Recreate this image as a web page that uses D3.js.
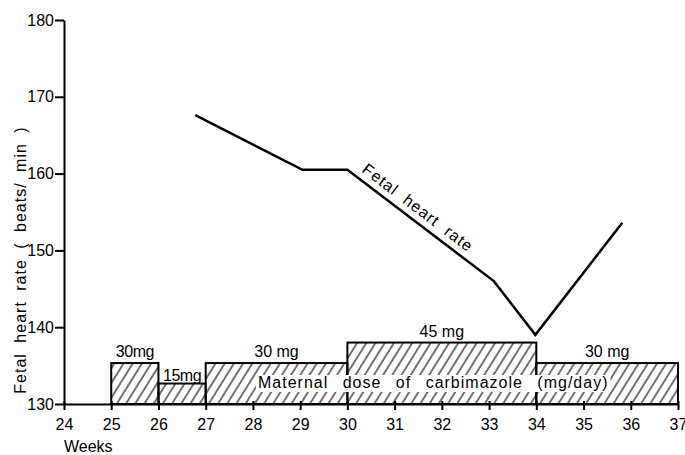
<!DOCTYPE html>
<html>
<head>
<meta charset="utf-8">
<script src="https://cdn.jsdelivr.net/npm/d3@7"></script>
<style>
  body { margin: 0; background: #fff; }
  text { font-family: "Liberation Sans", Arial, sans-serif; fill: #000; }
</style>
</head>
<body>
<svg id="chart" width="685" height="455"></svg>
<script>
    // fetal heart rate readings
    var weeks = [26.78, 29.05, 30.0, 33.1, 33.98, 35.82];
    var rate = [167.6, 160.5, 160.5, 146.0, 139.0, 153.6];

    // maternal carbimazole dose periods
    var doseStart = [25, 26, 27, 30, 34];
    var doseEnd = [26, 27, 30, 34, 37];
    var doseMg = [30, 15, 30, 45, 30];
    var doseLabels = ["30mg", "15mg", "30 mg", "45 mg", "30 mg"];

    var xTicks = d3.range(24, 38);
    var yTicks = [130, 140, 150, 160, 170, 180];

    var svg = d3.select("#chart");

    var x = d3.scaleLinear().domain([24, 37]).range([64, 678]);
    var y = d3.scaleLinear().domain([130, 180]).range([404, 20]);
    // dose drawn as bar height on the same baseline
    var yDose = d3.scaleLinear().domain([0, 45]).range([y(130), y(138)]);

    // hatch pattern
    var defs = svg.append("defs");
    var pat = defs.append("pattern")
        .attr("id", "hatch")
        .attr("patternUnits", "userSpaceOnUse")
        .attr("width", 7.8)
        .attr("height", 8)
        .attr("patternTransform", "rotate(32)");
    pat.append("line")
        .attr("x1", 1).attr("y1", 0)
        .attr("x2", 1).attr("y2", 8)
        .attr("stroke", "#000")
        .attr("stroke-width", 1.1);

    var doses = doseMg.map(function(d, i){
      return {start: doseStart[i], end: doseEnd[i], mg: d, label: doseLabels[i]};
    });

    // bars
    svg.selectAll("rect.dose")
        .data(doses)
      .enter().append("rect")
        .attr("class", "dose")
        .attr("x", function(d){ return x(d.start); })
        .attr("y", function(d){ return yDose(d.mg); })
        .attr("width", function(d){ return x(d.end) - x(d.start); })
        .attr("height", function(d){ return yDose(0) - yDose(d.mg); })
        .attr("fill", "url(#hatch)")
        .attr("stroke", "#000")
        .attr("stroke-width", 2);

    // dose labels
    svg.selectAll("text.doselabel")
        .data(doses)
      .enter().append("text")
        .attr("class", "doselabel")
        .attr("x", function(d){ return (x(d.start) + x(d.end)) / 2; })
        .attr("y", function(d){ return yDose(d.mg) - (d.mg == 15 ? 3 : 6); })
        .attr("text-anchor", "middle")
        .style("font-size", "16px")
        .style("letter-spacing", function(d){ return d.label.indexOf(" ") < 0 ? "-0.5px" : "0px"; })
        .text(function(d){ return d.label; });

    // caption inside the bars, on a white band
    var cap = svg.append("g");
    var capBg = cap.append("rect").attr("fill", "#fff");
    var capText = cap.append("text")
        .attr("x", 258)
        .attr("y", 388)
        .style("font-size", "16px")
        .style("letter-spacing", "1px")
        .style("word-spacing", "9px")
        .text("Maternal dose of carbimazole (mg/day)");
    var bb = capText.node().getBBox();
    capBg.attr("x", bb.x - 2).attr("y", bb.y + 1)
        .attr("width", bb.width + 4).attr("height", bb.height);

    // axes
    var xAxis = svg.append("g")
        .attr("transform", "translate(0," + y(130) + ")")
        .call(d3.axisBottom(x).tickValues(xTicks).tickSizeInner(6).tickSizeOuter(0).tickPadding(9)
          .tickFormat(d3.format("d")));
    xAxis.selectAll(".tick line").attr("y1", -3).attr("stroke-width", 2);
    xAxis.select(".domain").attr("stroke-width", 2);
    xAxis.selectAll("text").style("font-size", "16px").attr("font-family", null);

    var yAxis = svg.append("g")
        .attr("transform", "translate(" + x(24) + ",0)")
        .call(d3.axisLeft(y).tickValues(yTicks).tickSizeInner(9).tickSizeOuter(0).tickPadding(1));
    yAxis.selectAll(".tick line").attr("stroke-width", 2);
    yAxis.select(".domain").attr("stroke-width", 2);
    yAxis.selectAll("text").style("font-size", "16px").attr("font-family", null);

    // heart rate line
    var line = d3.line()
        .x(function(d){ return x(d[0]); })
        .y(function(d){ return y(d[1]); });

    var pts = weeks.map(function(w, i){ return [w, rate[i]]; });

    svg.append("path")
        .datum(pts)
        .attr("d", line)
        .attr("fill", "none")
        .attr("stroke", "#000")
        .attr("stroke-width", 2.5)
        .attr("stroke-linejoin", "miter");

    // label along the falling segment
    var p0 = [x(pts[2][0]), y(pts[2][1])], p1 = [x(pts[3][0]), y(pts[3][1])];
    var ang = Math.atan2(p1[1] - p0[1], p1[0] - p0[0]) * 180 / Math.PI;
    var t = 0.43;
    svg.append("text")
        .attr("transform", "translate(" + (p0[0] + (p1[0] - p0[0]) * t) + "," + (p0[1] + (p1[1] - p0[1]) * t) + ") rotate(" + ang + ")")
        .attr("text-anchor", "middle")
        .attr("dy", -7)
        .style("font-size", "16px")
        .style("letter-spacing", "1px")
        .style("word-spacing", "5px")
        .text("Fetal heart rate");

    // axis titles
    svg.append("text")
        .attr("transform", "translate(26,260) rotate(-90)")
        .attr("text-anchor", "middle")
        .style("font-size", "16px")
        .style("letter-spacing", "1px")
        .style("word-spacing", "5px")
        .text("Fetal heart rate ( beats/ min )");

    svg.append("text")
        .attr("x", 64)
        .attr("y", 452)
        .style("font-size", "16px")
        .text("Weeks");
</script>
</body>
</html>
